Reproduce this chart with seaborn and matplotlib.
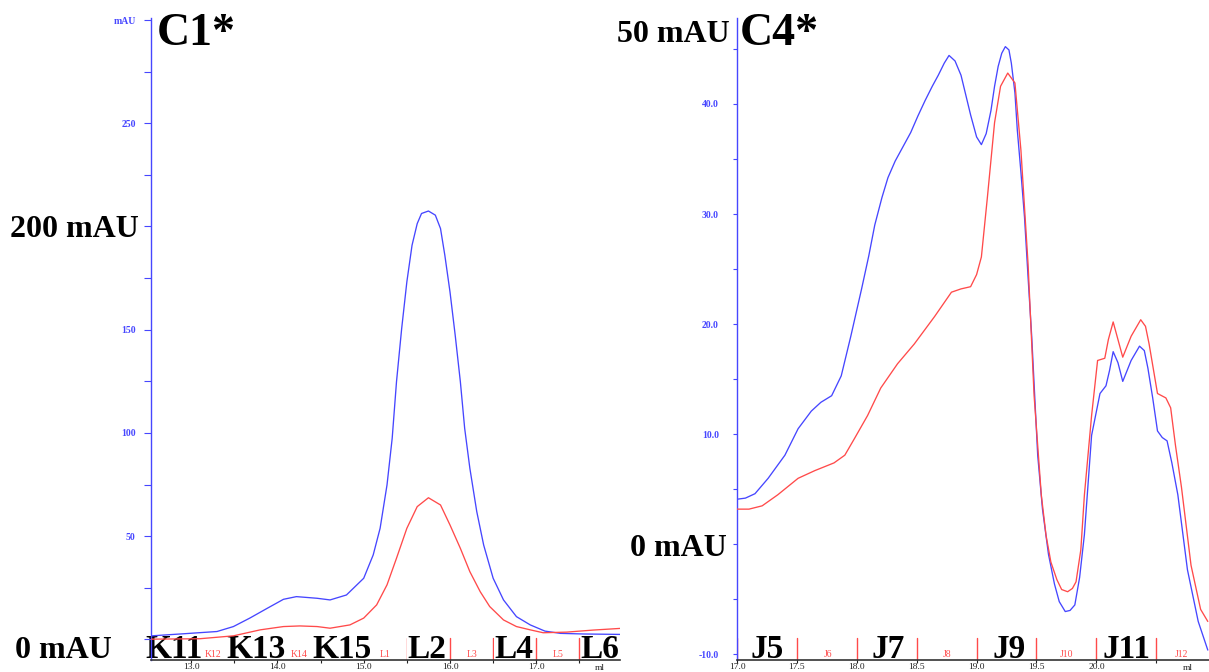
import numpy as np
import pandas as pd
import matplotlib
matplotlib.use('Agg')
import matplotlib.pyplot as plt
import matplotlib.transforms as mtransforms
import seaborn as sns

# ---------------- C1* (left chromatogram) ----------------
c1_blue_ml = [12.54, 12.91, 13.30, 13.49, 13.68, 13.88, 14.07, 14.22, 14.46, 14.61, 14.80, 15.00,
              15.11, 15.19, 15.27, 15.33, 15.38, 15.44, 15.50, 15.56, 15.62, 15.67, 15.75, 15.83,
              15.89, 15.94, 16.00, 16.06, 16.12, 16.17, 16.23, 16.31, 16.39, 16.50, 16.62, 16.77,
              16.93, 17.10, 17.28, 17.55, 17.97]
c1_blue_mau = [1.7, 2.7, 3.8, 6.2, 10.3, 15.0, 19.4, 20.7, 19.9, 19.1, 21.5, 29.6,
               40.9, 53.8, 74.8, 97.4, 124.8, 150.6, 173.2, 190.9, 201.4, 206.3, 207.5, 205.5,
               199.0, 186.1, 168.3, 147.4, 124.8, 102.2, 82.9, 61.9, 45.7, 29.6, 19.1, 11.0,
               7.0, 4.0, 2.9, 2.6, 2.4]
c1_red_ml = [12.54, 13.10, 13.49, 13.80, 14.07, 14.26, 14.46, 14.61, 14.84, 15.00, 15.15, 15.27,
             15.38, 15.50, 15.62, 15.75, 15.89, 16.00, 16.12, 16.23, 16.35, 16.46, 16.62, 16.77,
             16.93, 17.08, 17.35, 17.66, 17.97]
c1_red_mau = [0.1, 0.3, 1.7, 4.6, 6.2, 6.5, 6.2, 5.4, 7.0, 10.3, 16.7, 26.4,
              39.3, 53.8, 64.3, 68.6, 65.1, 55.4, 44.1, 32.8, 23.1, 15.9, 9.4, 6.2,
              4.6, 3.2, 3.5, 4.5, 5.3]
c1_bounds = [13.0, 13.5, 14.0, 14.5, 15.0, 15.5, 16.0, 16.5, 17.0, 17.5]
c1_big_labels = ['K11', 'K13', 'K15', 'L2', 'L4', 'L6']
c1_big_pos = [12.80, 13.75, 14.75, 15.73, 16.74, 17.74]
c1_small_labels = ['K12', 'K14', 'L1', 'L3', 'L5']
c1_small_pos = [13.25, 14.25, 15.25, 16.25, 17.25]
c1_xticks = [13.0, 14.0, 15.0, 16.0, 17.0]
c1_xtick_labels = ['13.0', '14.0', '15.0', '16.0', '17.0']
c1_yticks = [0, 50, 100, 150, 200, 250, 300]
c1_ytick_labels = ['', '50', '100', '150', '', '250', 'mAU']

# ---------------- C4* (right chromatogram) ----------------
c4_blue_ml = [17.00, 17.07, 17.15, 17.26, 17.40, 17.51, 17.62, 17.70, 17.79, 17.87, 17.95, 18.04,
              18.10, 18.15, 18.21, 18.26, 18.32, 18.37, 18.45, 18.51, 18.57, 18.63, 18.68, 18.73,
              18.77, 18.82, 18.87, 18.91, 18.95, 19.00, 19.04, 19.08, 19.12, 19.15, 19.18, 19.21,
              19.24, 19.27, 19.29, 19.32, 19.34, 19.37, 19.40, 19.43, 19.46, 19.51, 19.55, 19.60,
              19.65, 19.69, 19.74, 19.78, 19.82, 19.86, 19.90, 19.96, 20.03, 20.08, 20.11, 20.14,
              20.18, 20.22, 20.29, 20.36, 20.40, 20.43, 20.47, 20.51, 20.55, 20.59, 20.63, 20.68,
              20.76, 20.85, 20.93]
c4_blue_mau = [4.1, 4.2, 4.6, 6.0, 8.1, 10.5, 12.1, 12.9, 13.5, 15.3, 18.9, 23.2,
               26.2, 29.0, 31.5, 33.3, 34.8, 35.8, 37.4, 38.9, 40.3, 41.6, 42.6, 43.7,
               44.4, 43.9, 42.6, 40.8, 39.0, 37.0, 36.3, 37.3, 39.4, 41.6, 43.4, 44.6,
               45.2, 44.9, 43.7, 41.0, 37.6, 33.8, 29.7, 24.2, 18.9, 8.1, 3.2, -0.9,
               -3.6, -5.2, -6.1, -6.0, -5.5, -3.0, 0.9, 9.9, 13.7, 14.4, 15.8, 17.5,
               16.5, 14.8, 16.7, 18.0, 17.6, 16.0, 13.3, 10.3, 9.7, 9.4, 7.4, 4.5,
               -2.3, -7.0, -9.6]
c4_red_ml = [17.00, 17.10, 17.21, 17.34, 17.51, 17.65, 17.81, 17.90, 17.98, 18.09, 18.20, 18.34,
             18.48, 18.65, 18.79, 18.87, 18.95, 19.00, 19.04, 19.09, 19.15, 19.20, 19.26, 19.32,
             19.37, 19.43, 19.48, 19.54, 19.58, 19.62, 19.67, 19.71, 19.76, 19.80, 19.83, 19.87,
             19.90, 19.96, 20.01, 20.07, 20.10, 20.14, 20.18, 20.22, 20.29, 20.37, 20.41, 20.44,
             20.51, 20.58, 20.62, 20.66, 20.71, 20.79, 20.87, 20.93]
c4_red_mau = [3.2, 3.2, 3.5, 4.5, 6.0, 6.7, 7.4, 8.1, 9.6, 11.7, 14.2, 16.4,
              18.2, 20.7, 22.9, 23.2, 23.4, 24.5, 26.1, 31.5, 38.3, 41.6, 42.8, 41.9,
              35.8, 25.4, 13.5, 4.5, 0.8, -1.6, -3.2, -4.1, -4.3, -4.0, -3.4, -0.5,
              4.5, 11.7, 16.7, 16.9, 18.6, 20.2, 18.6, 17.0, 18.9, 20.4, 19.8, 18.2,
              13.7, 13.3, 12.4, 9.0, 5.2, -1.9, -5.9, -7.0]
c4_bounds = [17.0, 17.5, 18.0, 18.5, 19.0, 19.5, 20.0, 20.5]
c4_big_labels = ['J5', 'J7', 'J9', 'J11']
c4_big_pos = [17.25, 18.26, 19.27, 20.25]
c4_small_labels = ['J6', 'J8', 'J10', 'J12']
c4_small_pos = [17.76, 18.75, 19.75, 20.71]
c4_xticks = [17.0, 17.5, 18.0, 18.5, 19.0, 19.5, 20.0, 20.5]
c4_xtick_labels = ['17.0', '17.5', '18.0', '18.5', '19.0', '19.5', '20.0', '']
c4_yticks = [-10, 0, 10, 20, 30, 40]
c4_ytick_labels = ['-10.0', '', '10.0', '20.0', '30.0', '40.0']

sns.set_style('white')
plt.rcParams['font.family'] = ['Liberation Serif', 'DejaVu Serif']

BLUE = '#4646ff'
RED = '#ff4a4a'
W, H = 1209, 672

fig = plt.figure(figsize=(W / 100, H / 100), dpi=100)
ax1 = fig.add_axes([151 / W, 12 / H, 469 / W, 642 / H])
ax2 = fig.add_axes([737 / W, 12 / H, 472 / W, 642 / H])


def draw_panel(ax, bx, by, rx, ry, xlim, ylim, xticks, xtl, xminor, yticks, ytl, yminor,
               bounds, big_lab, big_pos, small_lab, small_pos, ml_pos, ylen, ypad):
    df = pd.DataFrame({
        'ml': list(bx) + list(rx),
        'mAU': list(by) + list(ry),
        'trace': ['UV'] * len(bx) + ['UV2'] * len(rx),
    })
    sns.lineplot(data=df, x='ml', y='mAU', hue='trace', palette=[BLUE, RED],
                 estimator=None, sort=False, lw=0.95, ax=ax, legend=False, zorder=3)
    for ln in ax.get_lines():
        ln.set_solid_joinstyle('round')
    ax.set_xlim(*xlim)
    ax.set_ylim(*ylim)
    ax.set_xlabel('')
    ax.set_ylabel('')
    ax.set_axisbelow(False)
    for s in ['top', 'right']:
        ax.spines[s].set_visible(False)
    ax.spines['left'].set_color(BLUE)
    ax.spines['left'].set_linewidth(1.0)
    ax.spines['bottom'].set_color('#333333')
    ax.spines['bottom'].set_linewidth(1.2)

    ax.set_yticks(yticks)
    ax.set_yticklabels(ytl, fontweight='bold')
    ax.set_yticks(yminor, minor=True)
    ax.tick_params(axis='y', which='both', left=True, colors=BLUE, direction='out',
                   length=ylen, width=0.8, labelsize=7, pad=ypad)
    ax.set_xticks(xticks)
    ax.set_xticklabels(xtl)
    ax.set_xticks(xminor, minor=True)
    ax.tick_params(axis='x', which='both', bottom=True, colors='#222222', direction='out',
                   length=2, width=0.8, labelsize=6.8, pad=0.5)

    trans = mtransforms.blended_transform_factory(ax.transData, ax.transAxes)
    for b in bounds:
        ax.axvline(b, ymin=0, ymax=0.034, color=RED, lw=1.0, zorder=1)
    for lab, p in zip(small_lab, small_pos):
        ax.text(p, 0.008, lab, transform=trans, ha='center', va='center',
                fontsize=7, color=RED, zorder=1.2)
    for lab, p in zip(big_lab, big_pos):
        ax.text(p, 0.003, lab, transform=trans, ha='center', va='baseline',
                fontsize=24, fontweight='bold', color='black', zorder=2, clip_on=False,
                bbox=dict(facecolor='white', edgecolor='none', pad=0))
    ax.text(ml_pos, -0.012, 'ml', transform=trans, ha='center', va='center',
            fontsize=6.8, color='#222222', clip_on=False)


draw_panel(ax1, c1_blue_ml, c1_blue_mau, c1_red_ml, c1_red_mau,
           (12.535, 17.97), (-10, 301), c1_xticks, c1_xtick_labels,
           [13.5, 14.5, 15.5, 16.5, 17.5], c1_yticks, c1_ytick_labels,
           [25, 75, 125, 175, 225, 275], c1_bounds, c1_big_labels, c1_big_pos,
           c1_small_labels, c1_small_pos, 17.74, 5, 6)
draw_panel(ax2, c4_blue_ml, c4_blue_mau, c4_red_ml, c4_red_mau,
           (17.0, 20.94), (-10.5, 47.8), c4_xticks, c4_xtick_labels,
           [], c4_yticks, c4_ytick_labels,
           [-5, 5, 15, 25, 35, 45], c4_bounds, c4_big_labels, c4_big_pos,
           c4_small_labels, c4_small_pos, 20.76, 3, 10)

big = dict(fontweight='bold', color='black', va='baseline', ha='left')
fig.text(157 / W, 1 - 45 / H, 'C1*', fontsize=33, **big)
fig.text(740 / W, 1 - 45 / H, 'C4*', fontsize=33, **big)
fig.text(10 / W, 1 - 237 / H, '200 mAU', fontsize=23, **big)
fig.text(15 / W, 1 - 658 / H, '0 mAU', fontsize=23, **big)
fig.text(617 / W, 1 - 42 / H, '50 mAU', fontsize=23, **big)
fig.text(630 / W, 1 - 556 / H, '0 mAU', fontsize=23, **big)

fig.savefig('out.png', dpi=100)
